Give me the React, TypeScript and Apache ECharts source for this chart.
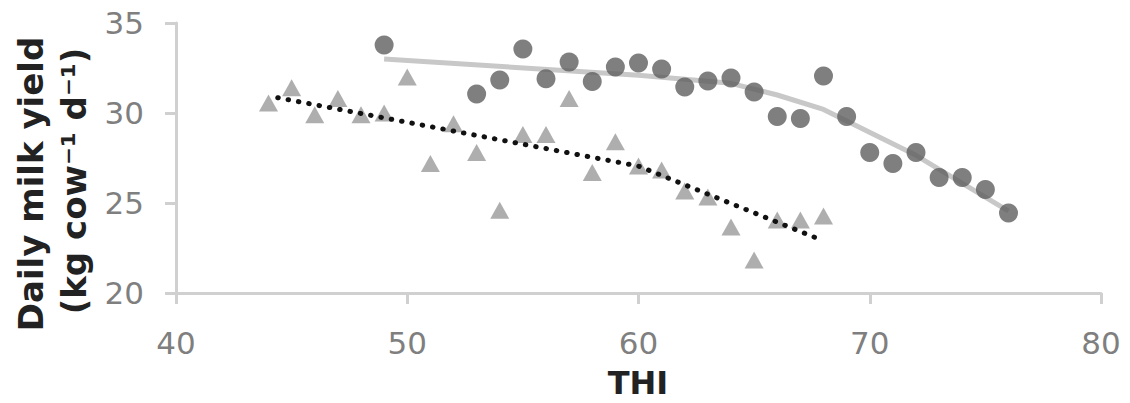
import React, { useEffect, useRef } from "react";
import * as echarts from "echarts";

const thiCircle = [49, 53, 54, 55, 56, 57, 58, 59, 60, 61, 62, 63, 64, 65, 66, 67, 68, 69, 70, 71, 72, 73, 74, 75, 76];
const yieldCircle = [33.78, 31.05, 31.83, 33.55, 31.9, 32.83, 31.75, 32.56, 32.78, 32.44, 31.45, 31.78, 31.95, 31.17, 29.8, 29.7, 32.06, 29.8, 27.8, 27.2, 27.8, 26.42, 26.42, 25.75, 24.45];

const thiTriangle = [44, 45, 46, 47, 48, 49, 50, 51, 52, 53, 54, 55, 56, 57, 58, 59, 60, 61, 62, 63, 64, 65, 66, 67, 68];
const yieldTriangle = [30.56, 31.4, 29.9, 30.8, 29.9, 30.0, 32.0, 27.2, 29.4, 27.8, 24.6, 28.8, 28.8, 30.8, 26.7, 28.4, 27.05, 26.83, 25.67, 25.33, 23.67, 21.83, 24.05, 24.05, 24.28];

const fitCircleX = [49, 60, 64, 66, 68, 72, 76];
const fitCircleY = [33.0, 32.1, 31.65, 31.0, 30.2, 27.65, 24.55];

const fitTriangleX = [44.4, 60, 67.8];
const fitTriangleY = [30.85, 27.05, 23.0];

const xTicks = { min: 40, max: 80, interval: 10 };
const yTicks = { min: 20, max: 35, interval: 5 };

const xTitle = "THI";
const yTitle1 = "Daily milk yield";
const yTitle2 = "(kg cow\u207B\u00B9 d\u207B\u00B9)";

const zip = (a: number[], b: number[]) => a.map((v, i) => [v, b[i]]);

export default function App() {
  const ref = useRef<HTMLDivElement>(null);
  useEffect(() => {
    if (!ref.current) return;
    const chart = echarts.init(ref.current, null, { renderer: "svg" });
    const axisColor = "#d0d0d0";
    const labelStyle = { color: "#7f7f7f", fontSize: 31, fontFamily: "DejaVu Sans" };
    const titleStyle = { fill: "#222222", fontSize: 34, fontWeight: "bold", fontFamily: "DejaVu Sans", align: "center", verticalAlign: "middle" };
    chart.setOption({
      animation: false,
      backgroundColor: "#ffffff",
      grid: { left: 176, right: 29, top: 23, bottom: 110, containLabel: false, outerBoundsMode: "none" },
      xAxis: {
        type: "value",
        min: xTicks.min,
        max: xTicks.max,
        interval: xTicks.interval,
        axisLine: { show: true, lineStyle: { color: axisColor, width: 3 } },
        axisTick: { show: true, length: 11, lineStyle: { color: axisColor, width: 3 } },
        axisLabel: { ...labelStyle, margin: 34 },
        splitLine: { show: false },
      },
      yAxis: {
        type: "value",
        min: yTicks.min,
        max: yTicks.max,
        interval: yTicks.interval,
        axisLine: { show: true, lineStyle: { color: axisColor, width: 3 } },
        axisTick: { show: true, length: 11, lineStyle: { color: axisColor, width: 3 } },
        axisLabel: { ...labelStyle, margin: 32 },
        splitLine: { show: false },
      },
      graphic: [
        {
          type: "text",
          x: 638,
          y: 383,
          style: { ...titleStyle, text: xTitle, fontSize: 32, lineHeight: 32 },
        },
        {
          type: "text",
          x: 31,
          y: 184,
          rotation: Math.PI / 2,
          style: { ...titleStyle, text: yTitle1 },
        },
        {
          type: "text",
          x: 74,
          y: 181,
          rotation: Math.PI / 2,
          style: { ...titleStyle, text: yTitle2 },
        },
      ],
      series: [
        {
          type: "line",
          data: zip(fitCircleX, fitCircleY),
          showSymbol: false,
          symbol: "none",
          lineStyle: { color: "#c8c8c8", width: 5 },
          z: 1,
        },
        {
          type: "scatter",
          data: zip(thiCircle, yieldCircle),
          symbol: "circle",
          symbolSize: 19,
          itemStyle: { color: "#5f5f5f" },
          z: 2,
        },
        {
          type: "scatter",
          data: zip(thiTriangle, yieldTriangle),
          symbol: "triangle",
          symbolSize: [19, 17],
          itemStyle: { color: "#9a9a9a" },
          z: 3,
        },
        {
          type: "line",
          data: zip(fitTriangleX, fitTriangleY),
          showSymbol: false,
          symbol: "none",
          lineStyle: { color: "#111111", width: 5, type: [0.5, 10], cap: "round" },
          z: 4,
        },
      ],
    });
    return () => chart.dispose();
  }, []);
  return <div ref={ref} style={{ width: 1130, height: 403, position: "absolute", left: 0, top: 0 }} />;
}
